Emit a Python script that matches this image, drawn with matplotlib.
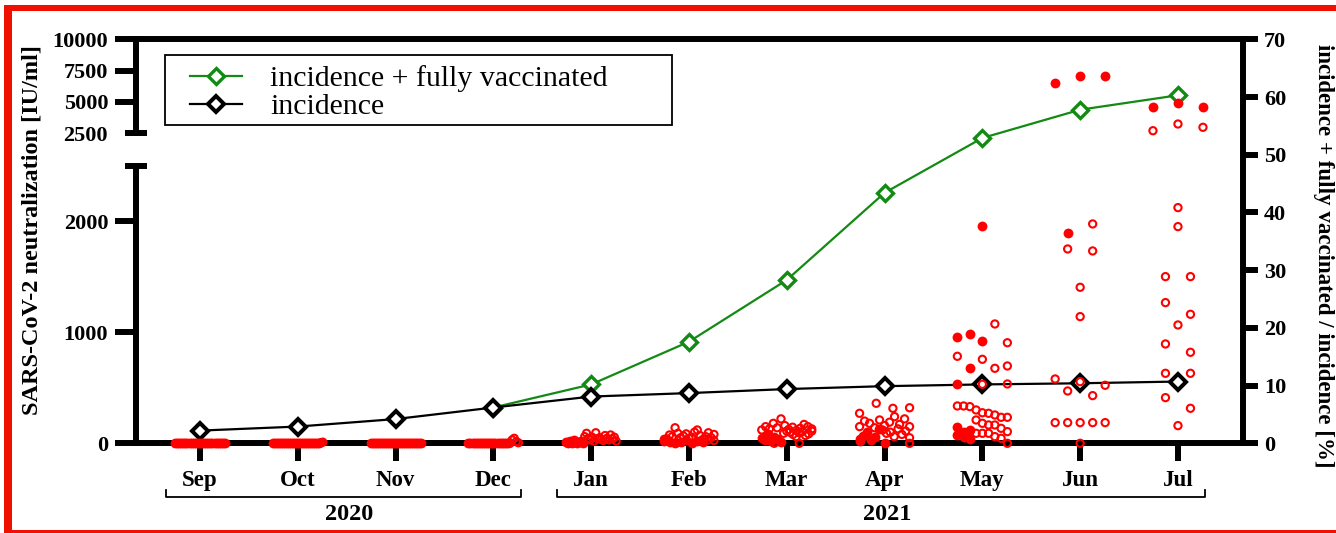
import numpy as np
import matplotlib
matplotlib.use("Agg")
import matplotlib.pyplot as plt
from matplotlib.patches import Rectangle
from matplotlib.lines import Line2D
from matplotlib.transforms import blended_transform_factory

# ---------------- data ----------------
months = ['Sep', 'Oct', 'Nov', 'Dec', 'Jan', 'Feb', 'Mar', 'Apr', 'May', 'Jun', 'Jul']
years = ['2020', '2021']
year_month_span = [(0, 3), (4, 10)]

incidence_vacc = [np.nan, np.nan, np.nan, 6.2, 10.2, 17.6, 28.3, 43.4, 52.9, 57.8, 60.3]
incidence = [2.2, 2.9, 4.2, 6.2, 8.1, 8.7, 9.4, 9.9, 10.2, 10.4, 10.7]
series_labels = ['incidence + fully vaccinated', 'incidence']

low_ticks = [0, 1000, 2000]
high_ticks = [5000, 7500, 10000]
break_value = 2500
top_value = 10000
pct_ticks = [0, 10, 20, 30, 40, 50, 60, 70]

# neutralization titers per month: open circles / filled dots
sep_open = []
sep_filled = [0, 0, 0, 0, 0, 0, 0, 0, 0, 0, 0, 0, 0, 0, 0, 0, 0, 0, 0, 0, 0, 0, 0, 0, 0]
oct_open = [5, 10]
oct_filled = [0, 0, 0, 0, 0, 0, 0, 0, 0, 0, 0, 0, 0, 0, 0, 0, 0, 0, 0, 0, 0, 0, 0, 0]
nov_open = []
nov_filled = [0, 0, 0, 0, 0, 0, 0, 0, 0, 0, 0, 0, 0, 0, 0, 0, 0, 0, 0, 0, 0, 0, 0, 0, 0, 0]
dec_open = [0, 30, 45, 15, 5]
dec_filled = [0, 0, 0, 0, 0, 0, 0, 0, 0, 0, 0, 0, 0, 0, 0, 0, 0, 0, 0, 0]
jan_open = [60, 90, 45, 30, 55, 20, 95, 40, 50, 35, 25, 70, 45, 30, 75, 40, 55, 20]
jan_filled = [10, 0, 20, 5, 30, 15, 0, 10, 25, 5]
feb_open = [40, 75, 60, 140, 90, 50, 30, 65, 85, 45, 55, 100, 120, 70, 35, 60, 95, 50, 25, 80]
feb_filled = [20, 10, 40, 0, 15, 30, 5, 25, 10]
mar_open = [120, 150, 90, 130, 180, 110, 140, 220, 100, 160, 125, 80, 145, 115, 60, 135,
            95, 170, 105, 150, 70, 130, 85, 110, 0, 0]
mar_filled = [50, 30, 80, 20, 60, 40, 10]
apr_open = [150, 200, 120, 270, 180, 90, 360, 140, 210, 100, 315, 160, 60, 190, 130, 240,
            80, 170, 110, 220, 50, 150, 320, 0]
apr_filled = [40, 70, 20, 100, 30, 0, 60, 130]
may_open = [1074, 905, 783, 756, 696, 675, 531, 534, 336, 336, 330, 300, 275, 270, 255, 234,
            234, 210, 180, 165, 165, 135, 105, 90, 90, 90, 60, 45, 0]
may_filled = [1958, 984, 954, 921, 675, 534, 150, 105, 75, 120, 60, 40]
jun_open = [1974, 1749, 1731, 1404, 1140, 579, 555, 522, 471, 429, 186, 186, 186, 186, 186, 0]
jun_filled = [1890, 6538, 7096, 7096]
jul_open = [2707, 3242, 2979, 2121, 1950, 1500, 1500, 1266, 1161, 1065, 894, 819, 630, 630,
            411, 315, 159]
jul_filled = [4575, 4950, 4575]

open_by_month = [sep_open, oct_open, nov_open, dec_open, jan_open, feb_open, mar_open,
                 apr_open, may_open, jun_open, jul_open]
filled_by_month = [sep_filled, oct_filled, nov_filled, dec_filled, jan_filled, feb_filled,
                   mar_filled, apr_filled, may_filled, jun_filled, jul_filled]

# ---------------- style ----------------
plt.rcParams['font.family'] = ['Liberation Serif', 'DejaVu Serif']
RED = '#ff0000'
GREEN = '#138a13'
SPW = 4.3          # spine / tick width (pt)
TICK_FS = 16

W, H = 1336, 533
fig = plt.figure(figsize=(W / 100, H / 100), dpi=100)

L, R = 136 / W, 1243 / W
y0 = 1 - 443.3 / H         # value 0
y_low_top = 1 - 165.5 / H  # 2500 on lower segment
y_high_bot = 1 - 133.3 / H  # 2500 on upper segment
y_top = 1 - 39.3 / H       # 10000 / 70 %

xmin, xmax = -0.654, 10.665

ax_pct = fig.add_axes([L, y0, R - L, y_top - y0], zorder=1)
ax_low = fig.add_axes([L, y0, R - L, y_low_top - y0], zorder=2)
ax_high = fig.add_axes([L, y_high_bot, R - L, y_top - y_high_bot], zorder=2)

line_styles = [dict(color=GREEN, lw=1.6, marker='D', ms=8.5, mfc='white', mec=GREEN, mew=2.4),
               dict(color='black', lw=1.6, marker='D', ms=8.5, mfc='white', mec='black', mew=2.9)]

# ---- percent axis (right) with x axis ----
x = np.arange(len(months))
l1, = ax_pct.plot(x, incidence_vacc, label=series_labels[0], **line_styles[0])
l2, = ax_pct.plot(x, incidence, label=series_labels[1], **line_styles[1])
ax_pct.set_xlim(xmin, xmax)
ax_pct.set_ylim(0, 70)
ax_pct.yaxis.tick_right()
ax_pct.set_yticks(pct_ticks)
ax_pct.set_xticks(x, months)
ax_pct.spines['left'].set_visible(False)
for s in ['top', 'right', 'bottom']:
    ax_pct.spines[s].set_linewidth(SPW)
ax_pct.tick_params(axis='y', direction='out', length=11, width=SPW, pad=4,
                   labelsize=TICK_FS)
ax_pct.tick_params(axis='x', direction='out', length=13, width=SPW, pad=6,
                   labelsize=16.5)
for lab in ax_pct.get_xticklabels() + ax_pct.get_yticklabels():
    lab.set_fontweight('bold')

# ---- broken left axis ----
for ax in (ax_low, ax_high):
    ax.patch.set_visible(False)
    ax.set_xlim(xmin, xmax)
    for s in ['top', 'right', 'bottom']:
        ax.spines[s].set_visible(False)
    ax.spines['left'].set_linewidth(SPW)
    ax.tick_params(axis='x', bottom=False, labelbottom=False)
    ax.tick_params(axis='y', which='major', direction='out', length=15, width=SPW,
                   pad=5, labelsize=TICK_FS)
    ax.tick_params(axis='y', which='minor', direction='inout', length=16.5, width=SPW,
                   pad=12, labelsize=TICK_FS)

ax_low.set_ylim(0, break_value)
ax_low.set_yticks(low_ticks)
ax_low.set_yticks([break_value], minor=True)
ax_high.set_ylim(break_value, top_value)
ax_high.set_yticks(high_ticks)
ax_high.set_yticks([break_value], labels=[str(break_value)], minor=True)
for ax in (ax_low, ax_high):
    for lab in ax.get_yticklabels() + ax.get_yticklabels(minor=True):
        lab.set_fontweight('bold')

# ---- scatter (swarm layout) ----
px_per_x = (R - L) * W / (xmax - xmin)
px_low = (y_low_top - y0) * H / (break_value - 0)
px_high = (y_top - y_high_bot) * H / (top_value - break_value)


def swarm_offsets(values, px_per_value, row_gap=12.0, width=50.0, step=25.0):
    vals = np.asarray(values, float)
    offs = np.zeros(len(vals))
    if len(vals) == 0:
        return offs
    order = np.argsort(-vals, kind='stable')
    rows, cur, start = [], [], None
    for i in order:
        yp = vals[i] * px_per_value
        if cur and abs(start - yp) < row_gap:
            cur.append(i)
        else:
            if cur:
                rows.append(cur)
            cur, start = [i], yp
    rows.append(cur)
    for r in rows:
        r = sorted(r)
        n = len(r)
        if n > 1:
            sp = min(step, width / (n - 1))
            offs[r] = (np.arange(n) - (n - 1) / 2) * sp
    return offs


for m, (op, fl) in enumerate(zip(open_by_month, filled_by_month)):
    vals = np.array(list(fl) + list(op), float)
    filled = np.array([True] * len(fl) + [False] * len(op))
    for ax, mask, ppv in ((ax_low, vals < break_value, px_low),
                          (ax_high, vals >= break_value, px_high)):
        if not mask.any():
            continue
        v = vals[mask]
        f = filled[mask]
        xs = m + swarm_offsets(v, ppv) / px_per_x
        if f.any():
            ax.scatter(xs[f], v[f], s=50, color=RED, linewidths=0,
                       clip_on=False, zorder=3)
        if (~f).any():
            ax.scatter(xs[~f], v[~f], s=27, facecolors='none', edgecolors=RED,
                       linewidths=1.5, clip_on=False, zorder=3)

# ---- year brackets ----
tr = blended_transform_factory(ax_pct.transData, fig.transFigure)
yb = 1 - 496.7 / H
yb_end = 1 - 490.0 / H
for label, (a, b) in zip(years, year_month_span):
    xa, xb = a - 0.35, b + 0.28
    ax_pct.plot([xa, xa, xb, xb], [yb_end, yb, yb, yb_end], color='black', lw=1.3,
                transform=tr, clip_on=False)
    ax_pct.text((xa + xb) / 2 + 0.06, 1 - 514.5 / H, label, transform=tr, ha='center',
                va='center', fontsize=17.5, fontweight='bold')

# ---- axis labels ----
fig.text(32 / W, 1 - 230 / H, 'SARS-CoV-2 neutralization [IU/ml]', rotation=90,
         ha='center', va='center', fontsize=17.5, fontweight='bold')
fig.text(1313 / W, 1 - 256 / H, 'incidence + fully vaccinated / incidence [%]',
         rotation=-90, ha='left', va='center', fontsize=16.5, fontweight='bold')

# ---- legend (drawn as a framed key) ----
fig.add_artist(Rectangle((165 / W, 1 - 125 / H), (672 - 165) / W, 70 / H,
                         transform=fig.transFigure, facecolor='white',
                         edgecolor='black', lw=1.3, zorder=5))
for i, (lab, st) in enumerate(zip(series_labels, line_styles)):
    yrow = 1 - (76 + 28 * i) / H
    fig.add_artist(Line2D([190 / W, 242 / W], [yrow, yrow], transform=fig.transFigure,
                          color=st['color'], lw=st['lw'], zorder=6))
    fig.add_artist(Line2D([216 / W], [yrow], transform=fig.transFigure, linestyle='none',
                          marker=st['marker'], ms=st['ms'], mfc=st['mfc'], mec=st['mec'],
                          mew=st['mew'], zorder=7))
    fig.text(270 / W, 1 - (86 + 28 * i) / H, lab, ha='left', va='baseline',
             fontsize=21.5, zorder=7)

# ---- red border ----
BR = '#f01000'
fig.add_artist(Rectangle((4 / W, 1 - 11 / H), 1, 6 / H, transform=fig.transFigure,
                         color=BR, lw=0, zorder=10))
fig.add_artist(Rectangle((4 / W, 0), 7.7 / W, 1 - 5 / H, transform=fig.transFigure,
                         color=BR, lw=0, zorder=10))
fig.add_artist(Rectangle((4 / W, 0), 1, 3 / H, transform=fig.transFigure,
                         color=BR, lw=0, zorder=10))

fig.savefig('out.png', dpi=100)
